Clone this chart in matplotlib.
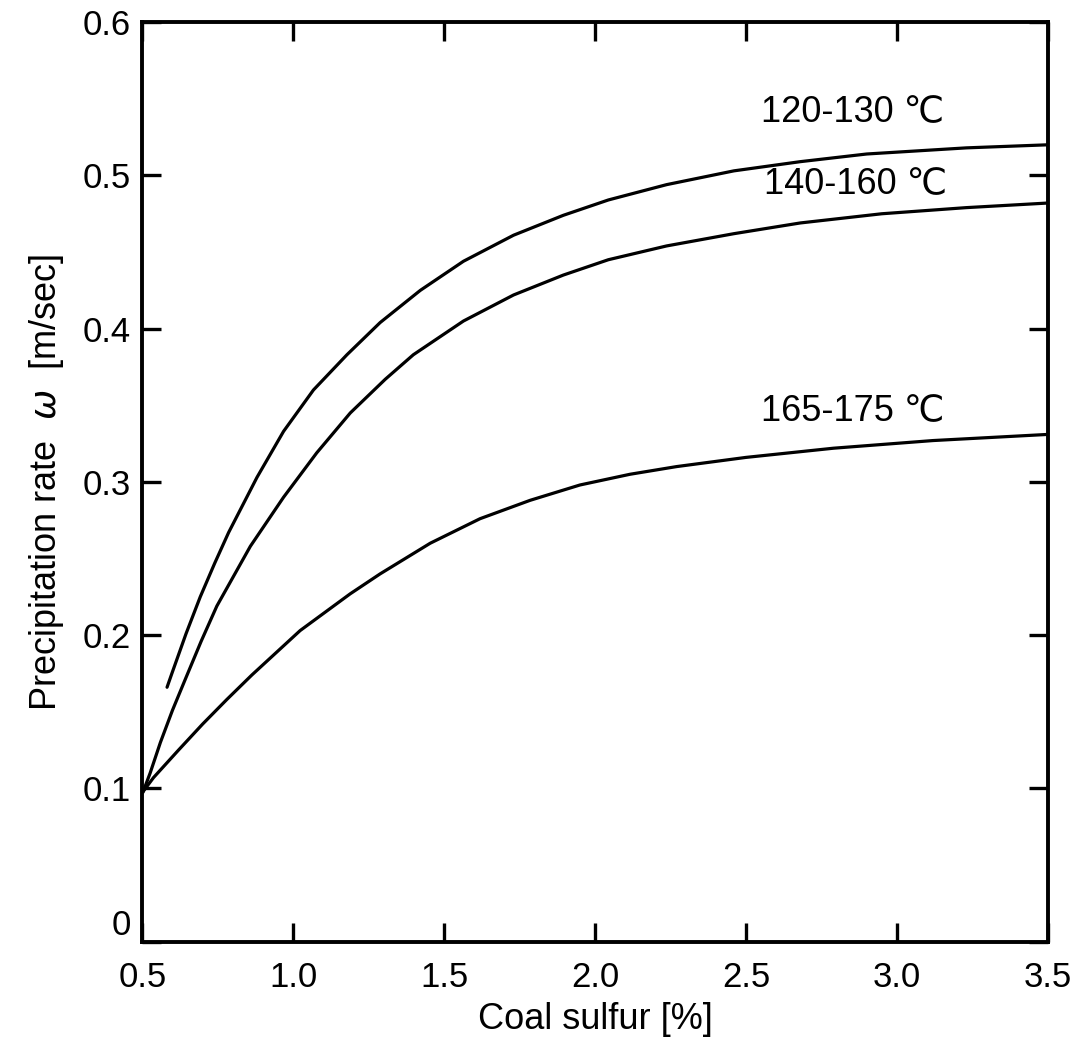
import matplotlib.pyplot as plt

plt.rcParams['font.family'] = ['Liberation Sans', 'DejaVu Sans']

# 数据
x_120 = [0.582, 0.598, 0.645, 0.692, 0.740, 0.786, 0.880, 0.968, 1.067, 1.178, 1.288, 1.421,
         1.564, 1.730, 1.895, 2.044, 2.237, 2.46, 2.68, 2.90, 3.23, 3.50]
y_120 = [0.166, 0.175, 0.201, 0.225, 0.247, 0.267, 0.303, 0.333, 0.360, 0.383, 0.404, 0.425,
         0.444, 0.461, 0.474, 0.484, 0.494, 0.503, 0.509, 0.514, 0.518, 0.520]

x_140 = [0.526, 0.560, 0.600, 0.642, 0.695, 0.747, 0.858, 0.968, 1.078, 1.189, 1.305, 1.398,
         1.564, 1.730, 1.895, 2.044, 2.237, 2.46, 2.68, 2.95, 3.23, 3.50]
y_140 = [0.110, 0.130, 0.151, 0.171, 0.196, 0.219, 0.258, 0.290, 0.319, 0.345, 0.367, 0.383,
         0.405, 0.422, 0.435, 0.445, 0.454, 0.462, 0.469, 0.475, 0.479, 0.482]

x_165 = [0.537, 0.620, 0.700, 0.780, 0.863, 1.023, 1.189, 1.288, 1.454, 1.619, 1.785, 1.950,
         2.116, 2.27, 2.50, 2.79, 3.12, 3.50]
y_165 = [0.107, 0.125, 0.142, 0.158, 0.174, 0.203, 0.227, 0.240, 0.260, 0.276, 0.288, 0.298,
         0.305, 0.310, 0.316, 0.322, 0.327, 0.331]

# 下面两条曲线在左端的交点
x_join = [0.503]
y_join = [0.098]

labels = ['120-130 ℃', '140-160 ℃', '165-175 ℃']
label_x = [2.55, 2.56, 2.55]
label_y = [0.541, 0.494, 0.346]

x_ticks = [0.5, 1.0, 1.5, 2.0, 2.5, 3.0, 3.5]
x_ticklabels = ['0.5', '1.0', '1.5', '2.0', '2.5', '3.0', '3.5']
y_ticks = [0, 0.1, 0.2, 0.3, 0.4, 0.5, 0.6]
y_ticklabels = ['0', '0.1', '0.2', '0.3', '0.4', '0.5', '0.6']

fig = plt.figure(figsize=(10.78, 10.58), dpi=100)
ax = fig.add_axes([0.132, 0.110, 0.840, 0.869])

ax.plot(x_120, y_120, color='black', linewidth=2.3, solid_capstyle='round')
ax.plot(x_join + x_140, y_join + y_140, color='black', linewidth=2.3, solid_joinstyle='round')
ax.plot(x_join + x_165, y_join + y_165, color='black', linewidth=2.3, solid_joinstyle='round')

for lab, lx, ly in zip(labels, label_x, label_y):
    ax.text(lx, ly, lab, fontsize=26, va='center', ha='left')

ax.set_xlim(0.5, 3.5)
ax.set_ylim(0, 0.6)
ax.set_xticks(x_ticks)
ax.set_xticklabels(x_ticklabels)
ax.set_yticks(y_ticks)
ax.set_yticklabels(y_ticklabels)

ax.tick_params(direction='in', length=14, width=2.4, labelsize=25,
               top=True, right=True)
ax.tick_params(axis='x', pad=14)
ax.tick_params(axis='y', pad=8)
# "0" 标签略微上移，避免与 x 轴 "0.5" 重叠
ax.get_yticklabels()[0].set_verticalalignment('bottom')
for sp in ax.spines.values():
    sp.set_linewidth(2.8)

ax.set_xlabel('Coal sulfur [%]', fontsize=26, labelpad=6)
ax.set_ylabel('Precipitation rate  $\\omega$  [m/sec]', fontsize=26, labelpad=12)

plt.savefig('out.png', dpi=100, facecolor='white')
